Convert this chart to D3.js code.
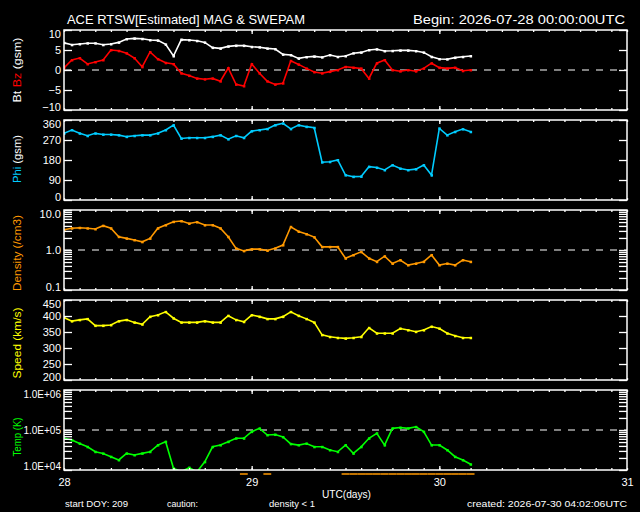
<!DOCTYPE html>
<html>
<head>
<meta charset="utf-8">
<script src="https://cdn.jsdelivr.net/npm/d3@7"></script>
<style>
  body { margin: 0; background: #000; }
  svg { display: block; background: #000; }
  text { font-family: 'Liberation Sans', Arial, sans-serif; fill: #fff; }
</style>
</head>
<body>
<svg width="640" height="512"></svg>
<script>
// hourly samples, hour 0 = 2026-07-28 00:00 UTC
const hours = d3.range(53);
const bt = [6.8,6.3,6.5,6.7,6.7,6.3,6.5,6.9,7.75,7.9,7.8,7.5,7.4,6.4,3.5,7.6,7.5,7.3,6.9,5.6,
            5.4,5.9,6.1,6.1,5.8,5.7,5.4,5.25,3.9,3.75,2.9,3.25,3.4,3.2,3.75,3.3,3.5,4.2,4.4,5.0,
            5.2,4.75,4.8,4.9,4.9,4.75,4.4,3.3,2.75,2.7,3.1,3.3,3.5];
const bz = [0.5,2.5,3.0,1.5,2.0,2.5,5.0,4.8,4.2,3.0,0.8,4.5,2.75,1.8,1.5,-0.8,-1.4,-2.1,-2.3,-2.1,
            -2.8,0.5,-3.6,-4.0,1.5,-0.8,-2.8,-3.6,-3.3,2.3,1.4,0.4,-0.5,-0.8,-0.4,0,0.8,0.6,0.4,-2.1,
            1.7,2.5,0,-0.3,0,-0.3,0.4,1.7,0.6,0.4,0.6,-0.2,0];
const phi = [300,315,300,289,300,295,295,292,285,289,292,292,300,315,337,277,280,280,280,285,
             292,274,289,280,310,315,320,337,345,320,337,330,325,170,172,180,112,105,106,150,
             146,135,157,142,135,139,157,112,322,292,307,319,307];
const density = [3.2,3.5,3.6,3.5,3.35,4.05,3.5,2.15,1.95,1.78,1.6,1.95,3.5,4.2,5.1,5.3,4.6,5.0,4.2,4.2,
                 3.5,2.15,1.1,0.95,1.05,1.05,0.97,1.1,1.33,3.8,2.9,2.5,2.1,1.2,1.2,1.2,0.62,0.75,0.9,0.62,
                 0.51,0.7,0.46,0.56,0.42,0.46,0.51,0.75,0.42,0.46,0.42,0.56,0.51];
const speed = [395,384,388,391,370,370,372,384,388,380,374,398,403,413,393,380,380,380,384,380,
               380,401,388,382,403,398,391,391,398,413,401,391,380,341,335,332,330,332,335,363,
               346,346,346,361,356,351,356,367,361,346,338,332,332];
const temp = [62000,56000,46000,38000,28600,26000,21500,17800,26000,23700,26000,28600,42000,51000,11000,9000,11500,9000,16000,38000,
              42000,51000,62000,62000,91000,110000,75000,77000,67000,45000,42000,46000,38000,38000,31600,28600,42000,26000,38000,62000,
              83000,42000,110000,115000,110000,120000,91000,42000,42000,31600,21500,17800,13900];

const dayLabels = [28, 29, 30, 31];

const svg = d3.select('svg');
const X0 = 64, X1 = 627;
const x = d3.scaleLinear().domain([28, 31]).range([X0, X1]);
const tday = hours.map(h => 28 + h / 24);

const panels = [
  { top: 30, bottom: 110, y: d3.scaleLinear().domain([-10, 10]),
    ticks: [-10, -5, 0, 5, 10], fmt: d3.format('d'), minor: [], dash: 0,
    series: [{ v: bt, c: '#ffffff' }, { v: bz, c: '#ff0000' }] },
  { top: 120, bottom: 200, y: d3.scaleLinear().domain([0, 360]),
    ticks: [0, 90, 180, 270, 360], fmt: d3.format('d'), minor: [], dash: null,
    series: [{ v: phi, c: '#00ccff' }] },
  { top: 210, bottom: 290, y: d3.scaleLog().domain([0.1, 10]),
    ticks: [0.1, 1, 10], fmt: d3.format('.1f'),
    minor: [0.2,0.3,0.4,0.5,0.6,0.7,0.8,0.9,2,3,4,5,6,7,8,9], dash: 1,
    series: [{ v: density, c: '#ff9900' }] },
  { top: 300, bottom: 380, y: d3.scaleLinear().domain([200, 450]),
    ticks: [200, 250, 300, 350, 400, 450], fmt: d3.format('d'), minor: [], dash: null,
    series: [{ v: speed, c: '#ffff00' }] },
  { top: 390, bottom: 470, y: d3.scaleLog().domain([1e4, 1e6]),
    ticks: [1e4, 1e5, 1e6], fmt: d => '1.0E+0' + Math.round(Math.log10(d)),
    minor: [2e4,3e4,4e4,5e4,6e4,7e4,8e4,9e4,2e5,3e5,4e5,5e5,6e5,7e5,8e5,9e5], dash: 1e5,
    series: [{ v: temp, c: '#00ff00' }], small: true }
];

const xMinor = d3.range(28, 31.0001, 1 / 12);
const xMajor = [29, 30];

panels.forEach((p, i) => {
  p.y.range([p.bottom, p.top]);
  const g = svg.append('g');

  g.append('clipPath').attr('id', 'clip' + i)
    .append('rect').attr('x', X0).attr('y', p.top).attr('width', X1 - X0).attr('height', p.bottom - p.top);

  if (p.dash !== null) {
    g.append('line')
      .attr('x1', X0).attr('x2', X1)
      .attr('y1', p.y(p.dash)).attr('y2', p.y(p.dash))
      .attr('stroke', '#fff').attr('stroke-width', 1.2)
      .attr('stroke-dasharray', '7,7');
  }

  const data = g.append('g').attr('clip-path', `url(#clip${i})`);
  p.series.forEach(s => {
    const line = d3.line().x((d, k) => x(tday[k])).y(d => p.y(d));
    data.append('path').datum(s.v)
      .attr('d', line).attr('fill', 'none')
      .attr('stroke', s.c).attr('stroke-width', 1.6);
    data.selectAll(null).data(s.v).join('rect')
      .attr('x', (d, k) => x(tday[k]) - 1)
      .attr('y', d => p.y(d) - 1)
      .attr('width', 2.5).attr('height', 2.5)
      .attr('fill', s.c);
  });

  // y axes
  const [lo, hi] = p.y.domain();
  const left = g.append('g').attr('transform', `translate(${X0},0)`)
    .call(d3.axisLeft(p.y).tickValues(p.ticks).tickFormat(p.fmt)
      .tickSizeInner(-8).tickSizeOuter(0).tickPadding(3));
  left.selectAll('text').attr('font-size', p.small ? 10 : 11).attr('fill', '#fff')
    .attr('font-family', "'Liberation Sans', Arial, sans-serif")
    .attr('y', d => d === lo ? -3.5 : d === hi ? 4 : 0);
  g.append('g').attr('transform', `translate(${X1},0)`)
    .call(d3.axisRight(p.y).tickValues(p.ticks.concat(p.minor)).tickFormat('')
      .tickSizeInner(-8).tickSizeOuter(0));
  if (p.minor.length) {
    g.append('g').attr('transform', `translate(${X0},0)`)
      .call(d3.axisLeft(p.y).tickValues(p.minor).tickFormat('').tickSizeInner(-8).tickSizeOuter(0));
  }

  // x ticks top and bottom
  [[p.bottom, d3.axisBottom], [p.top, d3.axisTop]].forEach(([yy, ax]) => {
    g.append('g').attr('transform', `translate(0,${yy})`)
      .call(ax(x).tickValues(xMinor).tickFormat('').tickSizeInner(-2).tickSizeOuter(0));
    g.append('g').attr('transform', `translate(0,${yy})`)
      .call(ax(x).tickValues(xMajor).tickFormat('').tickSizeInner(-4).tickSizeOuter(0));
  });

  g.append('rect')
    .attr('x', X0).attr('y', p.top).attr('width', X1 - X0).attr('height', p.bottom - p.top)
    .attr('fill', 'none').attr('stroke', '#fff').attr('stroke-width', 1.5);
});

svg.selectAll('.domain').remove();
svg.selectAll('.tick line').attr('stroke', '#fff').attr('stroke-width', 1.3);

// day labels
svg.append('g').attr('transform', 'translate(0,470)')
  .call(d3.axisBottom(x).tickValues(dayLabels).tickFormat(d3.format('d')).tickSize(0).tickPadding(8))
  .call(a => a.select('.domain').remove())
  .selectAll('text').attr('font-size', 11).attr('fill', '#fff')
  .attr('font-family', "'Liberation Sans', Arial, sans-serif");

// density < 1 markers below the last panel
svg.append('g').selectAll('line')
  .data(hours.filter(h => density[h] < 1))
  .join('line')
  .attr('x1', h => x(28 + (h - 0.5) / 24)).attr('x2', h => x(28 + (h + 0.5) / 24))
  .attr('y1', 474).attr('y2', 474)
  .attr('stroke', '#ff9900').attr('stroke-width', 1.5);

// y labels
function yLabel(cx, cy, len, parts) {
  const t = svg.append('text')
    .attr('transform', `translate(${cx},${cy}) rotate(-90)`)
    .attr('text-anchor', 'middle').attr('font-size', 11)
    .attr('textLength', len).attr('lengthAdjust', 'spacingAndGlyphs');
  parts.forEach(([s, c]) => t.append('tspan').text(s).attr('fill', c));
}
yLabel(21, 70, 65, [['Bt ', '#fff'], ['Bz', '#ff0000'], [' (gsm)', '#fff']]);
yLabel(21, 159, 48, [['Phi', '#00ccff'], [' (gsm)', '#fff']]);
yLabel(21, 253, 76, [['Density (/cm3)', '#ff9900']]);
yLabel(21, 343, 71, [['Speed (km/s)', '#ffff00']]);
yLabel(21, 437, 39, [['Temp (K)', '#00ff00']]);

// titles and footer
function txt(s, xx, yy, size, len, color) {
  svg.append('text').text(s).attr('x', xx).attr('y', yy)
    .attr('font-size', size).attr('fill', color || '#fff')
    .attr('textLength', len).attr('lengthAdjust', 'spacingAndGlyphs');
}
txt('ACE RTSW[Estimated] MAG & SWEPAM', 67, 24, 13, 238);
txt('Begin: 2026-07-28 00:00:00UTC', 413, 24, 13, 212);
txt('UTC(days)', 322, 498, 11, 49);
txt('start DOY: 209', 65, 507, 9, 63);
txt('caution:', 167, 507, 9, 31);
txt('density < 1', 269, 507, 9, 46, '#ff9900');
txt('created: 2026-07-30 04:02:06UTC', 467, 507, 9, 160);
</script>
</body>
</html>
